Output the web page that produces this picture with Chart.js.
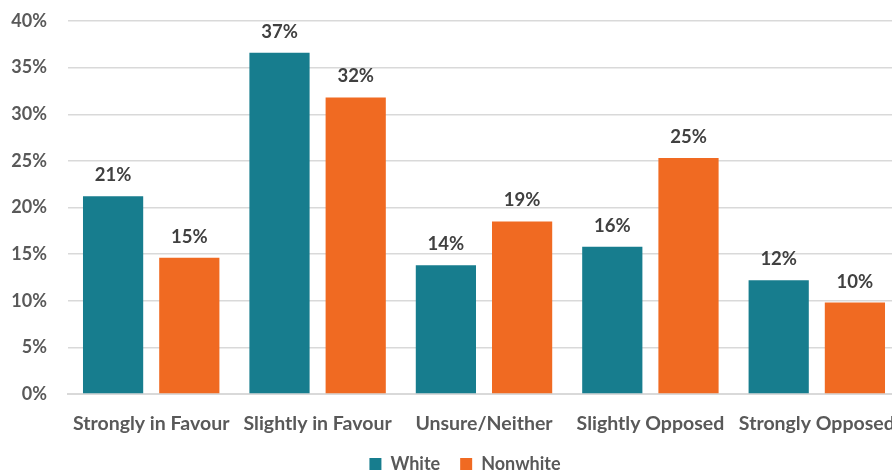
<!DOCTYPE html>
<html>
<head>
<meta charset="utf-8">
<script src="https://cdn.jsdelivr.net/npm/chart.js@4/dist/chart.umd.min.js"></script>
<style>
  html, body { margin: 0; padding: 0; background: #fff; overflow: hidden; }
  /* canvas a bit larger than the window: the original is cropped right/bottom */
  #wrap { width: 900px; height: 483px; position: relative; }
</style>
</head>
<body>
<div id="wrap"><canvas id="chart"></canvas></div>
<script>
/* ── Data ─────────────────────────────────────────────────── */
const CATEGORIES = ['Strongly in Favour', 'Slightly in Favour', 'Unsure/Neither', 'Slightly Opposed', 'Strongly Opposed'];
const WHITE      = [21.2, 36.6, 13.8, 15.8, 12.2];
const NONWHITE   = [14.6, 31.8, 18.5, 25.3, 9.8];
const Y_TICKS    = [0, 5, 10, 15, 20, 25, 30, 35, 40];

const TEAL   = '#177d8e';
const ORANGE = '#f06a22';
const TEXT   = '#595959';
const FONT   = 'Lato, "Open Sans", sans-serif';

/* ── Value labels above bars ──────────────────────────────── */
const barLabels = {
  id: 'barLabels',
  afterDatasetsDraw(chart) {
    const { ctx } = chart;
    ctx.save();
    ctx.font = `bold 18.5px ${FONT}`;
    ctx.fillStyle = '#404040';
    ctx.textAlign = 'center';
    ctx.textBaseline = 'middle';
    chart.data.datasets.forEach((ds, i) => {
      chart.getDatasetMeta(i).data.forEach((bar, j) => {
        ctx.fillText(Math.round(ds.data[j]) + '%', bar.x, bar.y - 21);
      });
    });
    ctx.restore();
  },
};

/* ── Legend sits slightly right of the canvas centre ─────── */
const legendShift = {
  id: 'legendShift',
  afterLayout(chart) {
    chart.legend.left += 15;
    chart.legend.right += 15;
  },
};

new Chart(document.getElementById('chart'), {
  type: 'bar',
  data: {
    labels: CATEGORIES,
    datasets: [
      { label: 'White',    data: WHITE,    backgroundColor: TEAL },
      { label: 'Nonwhite', data: NONWHITE, backgroundColor: ORANGE },
    ],
  },
  options: {
    responsive: true,
    maintainAspectRatio: false,
    animation: false,
    categoryPercentage: 0.916,
    barPercentage: 0.79,
    layout: { padding: { top: 21, right: 0, left: 0, bottom: 0 } },
    plugins: {
      legend: {
        position: 'bottom',
        labels: {
          color: TEXT,
          font: { family: FONT, size: 18, weight: 'bold' },
          boxWidth: 12, boxHeight: 12, padding: 20,
        },
      },
      tooltip: { enabled: false },
    },
    scales: {
      x: {
        afterFit: axis => { axis.height = 41; axis.paddingLeft = 0; axis.paddingRight = 0; },
        grid: { display: false, drawTicks: false },
        border: { color: '#d9d9d9', width: 2 },
        ticks: { color: TEXT, font: { family: FONT, size: 19.5, weight: 'bold' }, padding: 18, maxRotation: 0 },
      },
      y: {
        min: 0, max: 40,
        afterBuildTicks: axis => { axis.ticks = Y_TICKS.map(v => ({ value: v })); },
        afterFit: axis => { axis.width = 68; axis.paddingTop = 0; axis.paddingBottom = 0; },
        grid: { color: '#d9d9d9', lineWidth: 1.5, drawTicks: false },
        border: { display: false },
        ticks: { color: TEXT, font: { family: FONT, size: 18, weight: 'bold' }, padding: 21, callback: v => v + '%' },
      },
    },
  },
  plugins: [barLabels, legendShift],
});
</script>
</body>
</html>
